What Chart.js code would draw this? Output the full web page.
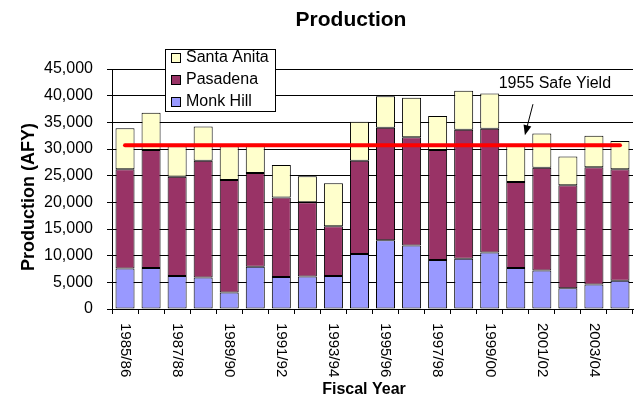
<!DOCTYPE html>
<html>
<head>
<meta charset="utf-8">
<script src="https://cdn.jsdelivr.net/npm/chart.js@4.4.1/dist/chart.umd.min.js"></script>
<style>
    html, body { margin: 0; padding: 0; background: #ffffff; }
    canvas { display: block; }
</style>
</head>
<body>
<canvas id="chart" width="638" height="401"></canvas>
<script>
// Данные графика
const fiscalYears = ['1985/86', '1986/87', '1987/88', '1988/89', '1989/90', '1990/91', '1991/92',
    '1992/93', '1993/94', '1994/95', '1995/96', '1996/97', '1997/98', '1998/99', '1999/00',
    '2000/01', '2001/02', '2002/03', '2003/04', '2004/05'];
const monkHill = [7600, 7700, 6200, 5900, 3100, 7900, 6000, 6100, 6200, 10300,
    12900, 11900, 9200, 9400, 10600, 7700, 7200, 3900, 4600, 5300];
const pasadena = [18600, 22100, 18600, 21900, 21100, 17600, 14900, 13900, 9300, 17500,
    21100, 20300, 20600, 24200, 23200, 16100, 19300, 19300, 22000, 20900];
const santaAnita = [7700, 7000, 5700, 6400, 6300, 5500, 6100, 4900, 8100, 7300,
    5900, 7400, 6400, 7300, 6600, 6800, 6400, 5400, 5900, 5300];
const safeYield = 30700;
const safeYieldLabel = '1955 Safe Yield';
const yTicks = { min: 0, max: 45000, step: 5000 };

const FONT = 'Arial, "Liberation Sans", sans-serif';

// Заголовки графика и осей (позиции как в исходной картинке Excel)
const titles = {
    id: 'titles',
    afterDraw(chart) {
        const ctx = chart.ctx;
        ctx.save();
        ctx.fillStyle = '#000';
        ctx.textAlign = 'center';
        ctx.textBaseline = 'middle';
        ctx.font = 'bold 21px ' + FONT;
        ctx.fillText('Production', 351, 20);
        ctx.font = 'bold 16px ' + FONT;
        ctx.fillText('Fiscal Year', 364, 390);
        ctx.save();
        ctx.translate(29, 197);
        ctx.rotate(-Math.PI / 2);
        ctx.font = 'bold 18px ' + FONT;
        ctx.fillText('Production (AFY)', 0, 0);
        ctx.restore();
        ctx.restore();
    }
};

// Подписи оси X, повернутые по часовой стрелке
const rotatedLabels = {
    id: 'rotatedLabels',
    afterDraw(chart) {
        const ctx = chart.ctx;
        const xs = chart.scales.x;
        ctx.save();
        ctx.font = '15px ' + FONT;
        ctx.fillStyle = '#000';
        ctx.textAlign = 'left';
        ctx.textBaseline = 'middle';
        fiscalYears.forEach((label, i) => {
            if (i % 2 !== 0) return;
            const x = xs.getPixelForValue(i);
            ctx.save();
            ctx.translate(x, xs.top + 14);
            ctx.rotate(Math.PI / 2);
            ctx.fillText(label, 0, 0);
            ctx.restore();
        });
        ctx.restore();
    }
};

// Легенда в рамке поверх области графика + подпись со стрелкой
const legendAndNote = {
    id: 'legendAndNote',
    afterDraw(chart) {
        const ctx = chart.ctx;
        const xs = chart.scales.x;
        const ys = chart.scales.y;
        ctx.save();

        // рамка легенды
        const bx = 165, by = 49, bw = 110, bh = 62;
        ctx.fillStyle = '#fff';
        ctx.fillRect(bx, by, bw, bh);
        ctx.strokeStyle = '#000';
        ctx.lineWidth = 1;
        ctx.strokeRect(bx + 0.5, by + 0.5, bw, bh);

        const items = [
            { text: 'Santa Anita', color: '#FFFFCC' },
            { text: 'Pasadena', color: '#993366' },
            { text: 'Monk Hill', color: '#9999FF' }
        ];
        ctx.font = '16px ' + FONT;
        ctx.textBaseline = 'middle';
        ctx.textAlign = 'left';
        items.forEach((it, i) => {
            const cy = by + 9 + i * 22;
            ctx.fillStyle = it.color;
            ctx.fillRect(172, cy - 4, 8, 8);
            ctx.strokeStyle = '#000';
            ctx.strokeRect(171.5, cy - 4.5, 9, 9);
            ctx.fillStyle = '#000';
            ctx.fillText(it.text, 186, cy);
        });

        // подпись "1955 Safe Yield"
        ctx.textAlign = 'center';
        ctx.fillText(safeYieldLabel, xs.getPixelForValue(16.5), ys.getPixelForValue(42200));

        // стрелка
        const x1 = xs.getPixelForValue(15.66), y1 = ys.getPixelForValue(38400);
        const x2 = xs.getPixelForValue(15.35), y2 = ys.getPixelForValue(32600);
        const ang = Math.atan2(y2 - y1, x2 - x1);
        ctx.strokeStyle = '#000';
        ctx.lineWidth = 1;
        ctx.beginPath();
        ctx.moveTo(x1, y1);
        ctx.lineTo(x2 - 7 * Math.cos(ang), y2 - 7 * Math.sin(ang));
        ctx.stroke();
        ctx.fillStyle = '#000';
        ctx.beginPath();
        ctx.moveTo(x2, y2);
        ctx.lineTo(x2 - 10 * Math.cos(ang) + 4 * Math.sin(ang), y2 - 10 * Math.sin(ang) - 4 * Math.cos(ang));
        ctx.lineTo(x2 - 10 * Math.cos(ang) - 4 * Math.sin(ang), y2 - 10 * Math.sin(ang) + 4 * Math.cos(ang));
        ctx.closePath();
        ctx.fill();
        ctx.restore();
    }
};

const whiteBackground = {
    id: 'whiteBackground',
    beforeDraw(chart) {
        const ctx = chart.ctx;
        ctx.save();
        ctx.fillStyle = '#fff';
        ctx.fillRect(0, 0, chart.width, chart.height);
        ctx.restore();
    }
};

const barStyle = {
    borderColor: '#000',
    borderWidth: 1,
    borderSkipped: false,
    barPercentage: 0.73,
    categoryPercentage: 1.0,
    stack: 'wells',
    order: 1
};

new Chart(document.getElementById('chart'), {
    type: 'bar',
    data: {
        labels: fiscalYears,
        datasets: [
            {
                type: 'line',
                label: safeYieldLabel,
                data: fiscalYears.map(() => safeYield),
                borderColor: '#FF0000',
                borderWidth: 4,
                borderCapStyle: 'round',
                pointRadius: 0,
                fill: false,
                stack: 'safe',
                order: 0
            },
            { label: 'Monk Hill', data: monkHill, backgroundColor: '#9999FF', ...barStyle },
            { label: 'Pasadena', data: pasadena, backgroundColor: '#993366', ...barStyle },
            { label: 'Santa Anita', data: santaAnita, backgroundColor: '#FFFFCC', ...barStyle }
        ]
    },
    options: {
        responsive: false,
        devicePixelRatio: 1,
        animation: false,
        layout: { padding: { left: 0, right: 5, top: 69, bottom: 0 } },
        plugins: {
            legend: { display: false },
            tooltip: { enabled: false },
            title: { display: false }
        },
        scales: {
            x: {
                stacked: true,
                offset: true,
                ticks: { display: false },
                grid: { offset: true, drawOnChartArea: false, drawTicks: true, tickLength: 5, color: '#000' },
                border: { color: '#000' },
                afterFit(scale) { scale.height = 92; }
            },
            y: {
                stacked: true,
                min: yTicks.min,
                max: yTicks.max,
                ticks: {
                    stepSize: yTicks.step,
                    color: '#000',
                    padding: 14,
                    font: { family: FONT, size: 16 },
                    callback: (v) => v.toLocaleString('en-US')
                },
                grid: { color: '#000', lineWidth: 1, tickLength: 5 },
                border: { color: '#000' },
                afterFit(scale) { scale.width = 112; }
            }
        }
    },
    plugins: [whiteBackground, titles, rotatedLabels, legendAndNote]
});
</script>
</body>
</html>
